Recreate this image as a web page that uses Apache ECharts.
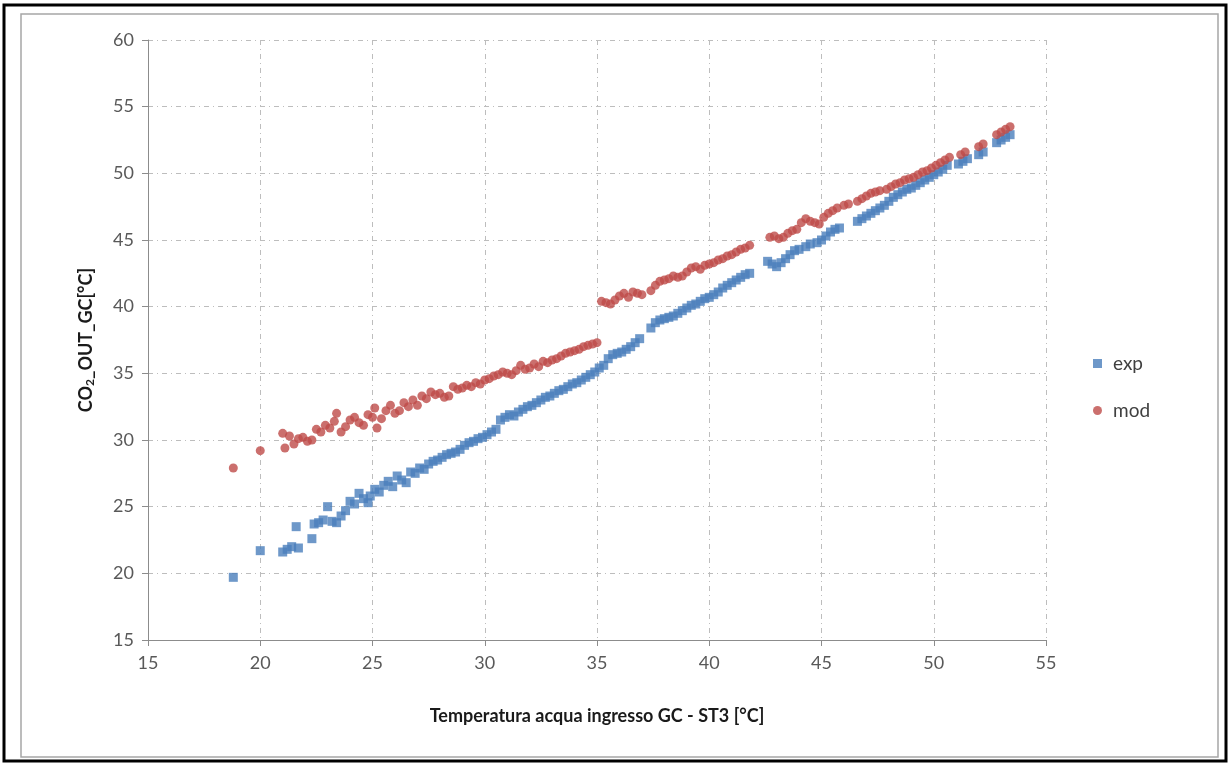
<!DOCTYPE html>
<html>
<head>
<meta charset="utf-8">
<script src="https://cdn.jsdelivr.net/npm/echarts@6/dist/echarts.min.js"></script>
<style>
html, body { margin: 0; padding: 0; background: #fff; }
#main { width: 1230px; height: 765px; }
</style>
</head>
<body>
<div id="main"></div>
<script>
// tick labels
var xTicks = [15, 20, 25, 30, 35, 40, 45, 50, 55];
var yTicks = [15, 20, 25, 30, 35, 40, 45, 50, 55, 60];

var seriesNames = ['exp', 'mod'];

// exp: temperatura ingresso / CO2 out (sperimentale)
var expX = [18.8, 20.0, 21.0, 21.2, 21.4, 21.7, 21.6, 22.3, 22.4, 22.6, 22.8, 23.0, 23.2, 23.4, 23.6, 23.8,
	24.0, 24.2, 24.4, 24.6, 24.8, 24.9, 25.1, 25.3, 25.5, 25.7, 25.9, 26.1, 26.3, 26.5, 26.7, 26.9,
	27.1, 27.3, 27.5, 27.7, 27.9, 28.1, 28.3, 28.5, 28.7, 28.9, 29.1, 29.3, 29.5, 29.7, 29.9, 30.1,
	30.3, 30.5, 30.7, 30.9, 31.1, 31.3, 31.5, 31.7, 31.9, 32.1, 32.3, 32.5, 32.7, 32.9, 33.1, 33.3,
	33.5, 33.7, 33.9, 34.1, 34.3, 34.5, 34.7, 34.9, 35.1, 35.3, 35.5, 35.7, 35.9, 36.1, 36.3, 36.5,
	36.7, 36.9, 37.4, 37.6, 37.8, 38.0, 38.2, 38.4, 38.6, 38.8, 39.0, 39.2, 39.4, 39.6, 39.8, 40.0,
	40.2, 40.4, 40.6, 40.8, 41.0, 41.2, 41.4, 41.6, 41.8, 42.6, 42.8, 43.0, 43.2, 43.4, 43.6, 43.8,
	44.0, 44.3, 44.5, 44.8, 45.0, 45.2, 45.4, 45.6, 45.8, 46.6, 46.8, 47.0, 47.2, 47.4, 47.6, 47.8,
	48.0, 48.2, 48.4, 48.6, 48.8, 49.0, 49.2, 49.4, 49.6, 49.8, 50.0, 50.2, 50.4, 50.6, 51.1, 51.3,
	51.5, 52.0, 52.2, 52.8, 53.0, 53.2, 53.4];
var expY = [19.7, 21.7, 21.6, 21.8, 22.0, 21.9, 23.5, 22.6, 23.7, 23.8, 24.0, 25.0, 23.9, 23.8, 24.3, 24.7,
	25.4, 25.2, 26.0, 25.6, 25.3, 25.8, 26.3, 26.1, 26.6, 26.9, 26.5, 27.3, 27.0, 26.8, 27.6, 27.5,
	27.9, 27.8, 28.2, 28.4, 28.5, 28.7, 28.9, 29.0, 29.1, 29.3, 29.6, 29.8, 29.9, 30.1, 30.2, 30.4,
	30.6, 30.8, 31.5, 31.7, 31.9, 31.8, 32.1, 32.3, 32.5, 32.6, 32.8, 33.0, 33.2, 33.3, 33.5, 33.7,
	33.8, 34.0, 34.2, 34.3, 34.5, 34.7, 34.9, 35.1, 35.4, 35.6, 36.1, 36.4, 36.5, 36.6, 36.8, 37.0,
	37.3, 37.6, 38.4, 38.8, 39.0, 39.1, 39.2, 39.3, 39.5, 39.7, 39.9, 40.1, 40.2, 40.4, 40.6, 40.7,
	40.9, 41.1, 41.4, 41.6, 41.8, 42.0, 42.2, 42.4, 42.5, 43.4, 43.2, 43.0, 43.3, 43.6, 43.9, 44.2,
	44.3, 44.5, 44.7, 44.8, 45.0, 45.3, 45.6, 45.8, 45.9, 46.4, 46.6, 46.8, 47.0, 47.2, 47.4, 47.6,
	47.9, 48.2, 48.4, 48.6, 48.8, 48.9, 49.1, 49.3, 49.5, 49.7, 49.9, 50.1, 50.3, 50.6, 50.7, 50.9,
	51.1, 51.4, 51.6, 52.3, 52.5, 52.7, 52.9];

// mod: valori del modello
var modX = [18.8, 20.0, 21.0, 21.1, 21.3, 21.5, 21.7, 21.9, 22.1, 22.3, 22.5, 22.7, 22.9, 23.1, 23.3, 23.4,
	23.6, 23.8, 24.0, 24.2, 24.4, 24.6, 24.8, 25.0, 25.1, 25.2, 25.4, 25.6, 25.8, 26.0, 26.2, 26.4,
	26.6, 26.8, 27.0, 27.2, 27.4, 27.6, 27.8, 28.0, 28.2, 28.4, 28.6, 28.8, 29.0, 29.2, 29.4, 29.6,
	29.8, 30.0, 30.2, 30.4, 30.6, 30.8, 31.0, 31.2, 31.4, 31.6, 31.8, 32.0, 32.2, 32.4, 32.6, 32.8,
	33.0, 33.2, 33.4, 33.6, 33.8, 34.0, 34.2, 34.4, 34.6, 34.8, 35.0, 35.2, 35.4, 35.6, 35.8, 36.0,
	36.2, 36.4, 36.6, 36.8, 37.0, 37.4, 37.6, 37.8, 38.0, 38.2, 38.4, 38.6, 38.8, 39.0, 39.2, 39.4,
	39.6, 39.8, 40.0, 40.2, 40.4, 40.6, 40.8, 41.0, 41.2, 41.4, 41.6, 41.8, 42.7, 42.9, 43.1, 43.3,
	43.5, 43.7, 43.9, 44.1, 44.3, 44.5, 44.7, 44.9, 45.1, 45.3, 45.5, 45.7, 46.0, 46.2, 46.6, 46.8,
	47.0, 47.2, 47.4, 47.6, 47.9, 48.1, 48.3, 48.5, 48.7, 48.9, 49.1, 49.3, 49.5, 49.7, 49.9, 50.1,
	50.3, 50.5, 50.7, 51.2, 51.4, 52.0, 52.2, 52.8, 53.0, 53.2, 53.4];
var modY = [27.9, 29.2, 30.5, 29.4, 30.3, 29.7, 30.1, 30.2, 29.9, 30.0, 30.8, 30.6, 31.1, 30.9, 31.4, 32.0,
	30.6, 31.0, 31.5, 31.7, 31.3, 31.1, 31.9, 31.7, 32.4, 30.9, 31.6, 32.2, 32.6, 32.0, 32.2, 32.8,
	32.5, 33.0, 32.6, 33.3, 33.1, 33.6, 33.4, 33.5, 33.2, 33.3, 34.0, 33.8, 33.9, 34.1, 34.0, 34.3,
	34.2, 34.5, 34.6, 34.8, 34.9, 35.1, 35.0, 34.9, 35.2, 35.6, 35.3, 35.4, 35.7, 35.5, 35.9, 35.8,
	36.0, 36.1, 36.3, 36.5, 36.6, 36.7, 36.8, 37.0, 37.1, 37.2, 37.3, 40.4, 40.3, 40.2, 40.5, 40.8,
	41.0, 40.7, 41.1, 41.0, 40.9, 41.2, 41.6, 41.9, 42.0, 42.1, 42.3, 42.2, 42.3, 42.6, 42.9, 43.0,
	42.8, 43.1, 43.2, 43.3, 43.5, 43.6, 43.8, 43.9, 44.1, 44.3, 44.4, 44.6, 45.2, 45.3, 45.1, 45.2,
	45.5, 45.7, 45.8, 46.3, 46.6, 46.4, 46.3, 46.2, 46.7, 47.0, 47.2, 47.4, 47.6, 47.7, 47.9, 48.1,
	48.3, 48.5, 48.6, 48.7, 48.8, 49.0, 49.2, 49.3, 49.5, 49.6, 49.7, 49.9, 50.1, 50.2, 50.4, 50.6,
	50.8, 51.0, 51.2, 51.4, 51.6, 52.0, 52.2, 52.9, 53.1, 53.3, 53.5];

function pairs(xs, ys) {
	var out = [];
	for (var i = 0; i < xs.length; i++) {
		out.push([xs[i], ys[i]]);
	}
	return out;
}

var myChart = echarts.init(document.getElementById('main'));

var gridLine = {
	show : true,
	lineStyle : {
		color : '#bdbdbd',
		width : 1,
		type : [5, 4, 1, 4]
	}
};

var option = {
	backgroundColor : '#fff',
	textStyle : {
		fontFamily : 'Lato, "Liberation Sans", sans-serif'
	},
	graphic : [ {
		type : 'rect',
		shape : { x : 4, y : 5, width : 1222, height : 756 },
		style : { fill : 'none', stroke : '#000', lineWidth : 3 }
	}, {
		type : 'rect',
		shape : { x : 21, y : 14, width : 1197, height : 743 },
		style : { fill : 'none', stroke : '#a6a6a6', lineWidth : 1.5 }
	} ],
	grid : {
		left : 148,
		right : 184,
		top : 40,
		bottom : 125
	},
	legend : {
		orient : 'vertical',
		left : 1088,
		top : 349,
		itemGap : 28,
		itemWidth : 9,
		itemHeight : 9,
		textStyle : {
			fontSize : 19,
			color : '#404040',
			padding : [0, 0, 0, 6]
		},
		data : [ {
			name : 'exp',
			icon : 'rect'
		}, {
			name : 'mod',
			icon : 'circle'
		} ]
	},
	xAxis : {
		type : 'value',
		min : 15,
		max : 55,
		interval : 5,
		name : 'Temperatura acqua ingresso GC - ST3 [°C]',
		nameLocation : 'middle',
		nameGap : 67,
		nameTextStyle : {
			fontSize : 18,
			fontWeight : 'bold',
			color : '#1a1a1a'
		},
		axisLine : { lineStyle : { color : '#8c8c8c', width : 1 } },
		axisTick : { show : true, length : 6, lineStyle : { color : '#8c8c8c' } },
		axisLabel : {
			fontSize : 18,
			color : '#595959',
			margin : 14,
			formatter : function(v) {
				return xTicks.indexOf(v) >= 0 ? String(v) : '';
			}
		},
		splitLine : gridLine
	},
	yAxis : {
		type : 'value',
		min : 15,
		max : 60,
		interval : 5,
		name : 'CO{sub|2}_OUT_GC[°C]',
		nameLocation : 'middle',
		nameGap : 52,
		nameTextStyle : {
			fontSize : 18,
			fontWeight : 'bold',
			color : '#1a1a1a',
			rich : {
				sub : {
					fontSize : 12,
					fontWeight : 'bold',
					color : '#1a1a1a',
					verticalAlign : 'bottom',
					padding : [8, 0, 0, 0]
				}
			}
		},
		axisLine : { show : true, lineStyle : { color : '#8c8c8c', width : 1 } },
		axisTick : { show : true, length : 6, lineStyle : { color : '#8c8c8c' } },
		axisLabel : {
			fontSize : 18,
			color : '#595959',
			margin : 14,
			formatter : function(v) {
				return yTicks.indexOf(v) >= 0 ? String(v) : '';
			}
		},
		splitLine : gridLine
	},
	series : [ {
		name : seriesNames[0],
		type : 'scatter',
		symbol : 'rect',
		symbolSize : 9,
		itemStyle : { color : '#4a7ebb' },
		data : pairs(expX, expY)
	}, {
		name : seriesNames[1],
		type : 'scatter',
		symbol : 'circle',
		symbolSize : 9,
		itemStyle : { color : '#be4b48' },
		data : pairs(modX, modY)
	} ]
};
myChart.setOption(option);
</script>
</body>
</html>
